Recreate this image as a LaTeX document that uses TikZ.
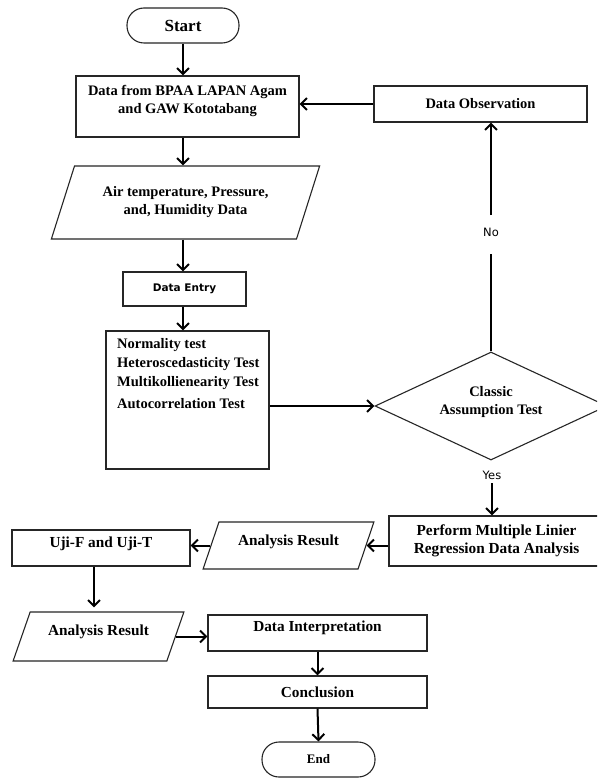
\documentclass[tikz,border=0pt]{standalone}
\usepackage{fontspec}
\setmainfont{Liberation Serif}
\newfontfamily\sansf{DejaVu Sans}
\usetikzlibrary{shapes.geometric,arrows.meta}
\begin{document}
\begin{tikzpicture}[x=1pt,y=-1pt,
  box/.style={draw=black!85, line width=1.1pt, rectangle, inner sep=0pt, align=center,
    font=\fontsize{14.5}{18}\selectfont\bfseries},
  bigbox/.style={box, font=\fontsize{15.3}{18}\selectfont\bfseries},
  term/.style={box, rounded corners=17pt},
  io/.style={trapezium, trapezium stretches=true},
  arr/.style={line width=2pt, -{Straight Barb[length=6pt,width=12pt]}},
  plain/.style={line width=2pt},
  lbl/.style={font=\sansf\fontsize{11.5}{14}\selectfont, inner sep=0pt},
]
\useasboundingbox (0,0) rectangle (597,778);
\fill[white] (0,0) rectangle (597,778);
\clip (0,0) rectangle (597,778);

% nodes
\node[term, minimum width=112pt, minimum height=35pt, font=\fontsize{17}{20}\selectfont\bfseries] (start) at (183,25.5) {Start};
\node[box, minimum width=223pt, minimum height=61pt, text depth=14pt] (src) at (187.5,106.5) {Data from BPAA LAPAN Agam\\and GAW Kototabang};
\node[box, io, trapezium left angle=61, trapezium right angle=119, minimum width=269pt, minimum height=73pt] (par1) at (185.5,202.5) {Air temperature, Pressure,\\and, Humidity Data};
\node[box, minimum width=123pt, minimum height=34pt, font=\sansf\bfseries\fontsize{10.5}{13}\selectfont] (entry) at (184.5,289) {Data Entry};
\node[box, minimum width=163pt, minimum height=138pt] (tests) at (187.5,400) {};
\node[anchor=north west, align=left, inner sep=0pt, font=\fontsize{14.5}{19}\selectfont\bfseries] (teststxt) at (117,338) {Normality test\\Heteroscedasticity Test\\Multikollienearity Test\\[3pt]Autocorrelation Test};
\node[draw=black!85, line width=1.1pt, diamond, aspect=2.15, minimum width=232pt, minimum height=108pt, inner sep=0pt, align=center, text depth=12pt, font=\fontsize{14.5}{18}\selectfont\bfseries] (dec) at (491,406) {Classic\\Assumption Test};
\node[box, minimum width=213pt, minimum height=36pt] (obs) at (480.5,104) {Data Observation};
\node[bigbox, minimum width=215pt, minimum height=50pt] (perf) at (496.5,541) {Perform Multiple Linier\\Regression Data Analysis};
\node[bigbox, io, trapezium left angle=62, trapezium right angle=118, minimum width=171pt, minimum height=47pt, text depth=11pt] (ar1) at (288.5,545.5) {Analysis Result};
\node[bigbox, minimum width=178pt, minimum height=36pt, text depth=11pt] (uji) at (101,548) {Uji-F and Uji-T};
\node[bigbox, io, trapezium left angle=62, trapezium right angle=118, minimum width=171pt, minimum height=49pt, text depth=13pt] (ar2) at (98.5,636.5) {Analysis Result};
\node[bigbox, minimum width=219pt, minimum height=36pt, text depth=13pt] (interp) at (317.5,633) {Data Interpretation};
\node[bigbox, minimum width=219pt, minimum height=32pt] (concl) at (317.5,692) {Conclusion};
\node[term, minimum width=113pt, minimum height=35pt, font=\fontsize{13}{16}\selectfont\bfseries] (stop) at (318.5,759.5) {End};
\node[lbl] (no) at (491,232) {No};
\node[lbl] (yes) at (492,475) {Yes};

% connectors
\draw[arr] (start.south) -- (start.south |- src.north);
\draw[arr] (start.south |- src.south) -- (start.south |- par1.north);
\draw[arr] (start.south |- par1.south) -- (start.south |- entry.north);
\draw[arr] (start.south |- entry.south) -- (start.south |- tests.north);
\draw[arr] (tests.east |- dec.west) -- (dec.west);
\draw[plain] (dec.north) -- ([yshift=-22pt]no.center);
\draw[arr] ([yshift=17pt]no.center) -- (no.center |- obs.south);
\draw[arr] (obs.west) -- (obs.west -| src.east);
\draw[arr] ([yshift=-8pt]yes.center) -- (yes.center |- perf.north);
\draw[arr] (perf.west |- ar1.east) -- (ar1.east);
\draw[arr] (ar1.west) -- (ar1.west -| uji.east);
\draw[arr, shorten >=4pt] ([xshift=-7pt]uji.south) -- ([xshift=-7pt]uji.south |- ar2.north);
\draw[arr] (ar2.east) -- (ar2.east -| interp.west);
\draw[arr] (interp.south) -- (concl.north);
\draw[arr] (concl.south) -- (stop.north);
\end{tikzpicture}
\end{document}
